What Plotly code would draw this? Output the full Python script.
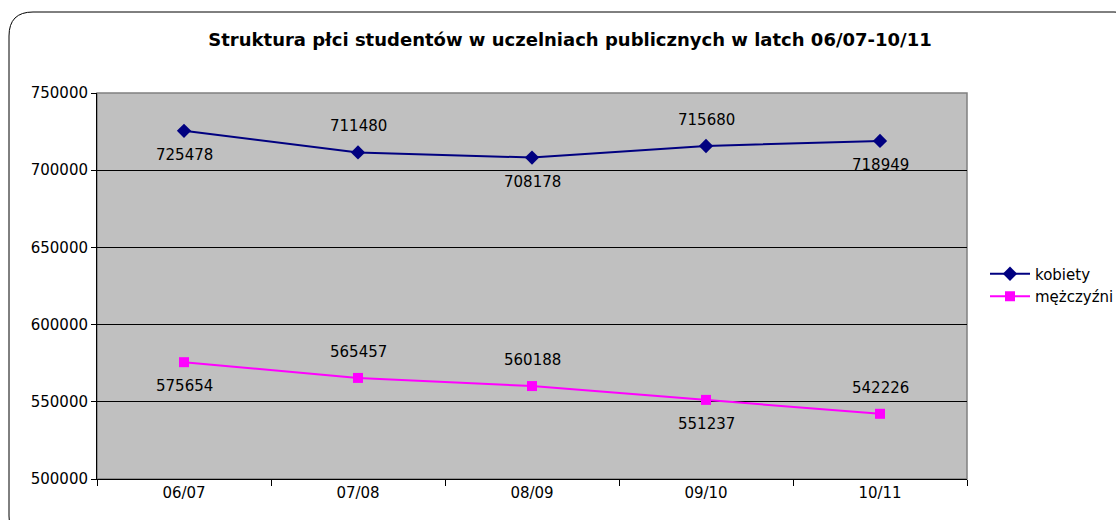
import plotly.graph_objects as go

categories = ["06/07", "07/08", "08/09", "09/10", "10/11"]
kobiety = [725478, 711480, 708178, 715680, 718949]
mezczyzni = [575654, 565457, 560188, 551237, 542226]
kobiety_label_pos = ["below", "above", "below", "above", "below"]
mezczyzni_label_pos = ["below", "above", "above", "below", "above"]
y_ticks = [500000, 550000, 600000, 650000, 700000, 750000]

W, H = 1116, 520
L, R, T, B = 97, 967, 93, 479
FONT = "DejaVu Sans, Liberation Sans, Arial"

fig = go.Figure()
fig.add_trace(go.Scatter(
    x=categories, y=kobiety, name="kobiety", mode="lines+markers",
    line=dict(color="#000080", width=2),
    marker=dict(symbol="diamond", size=11, color="#000080"),
))
fig.add_trace(go.Scatter(
    x=categories, y=mezczyzni, name="mężczyźni", mode="lines+markers",
    line=dict(color="#FF00FF", width=2),
    marker=dict(symbol="square", size=10, color="#FF00FF"),
))

annotations = []
for vals, poss in [(kobiety, kobiety_label_pos), (mezczyzni, mezczyzni_label_pos)]:
    for c, v, p in zip(categories, vals, poss):
        annotations.append(dict(
            x=c, y=v, xref="x", yref="y", text=str(v), showarrow=False,
            yshift=-24 if p == "below" else 26,
            font=dict(family=FONT, size=15, color="#000000"),
        ))


def px(x):
    return (x - L) / (R - L)


def py(y):
    return (B - y) / (B - T)


x0, x1, y0, y1, r = 9, 1138, 12, 540, 24
path = (
    f"M {px(x0 + r)},{py(y0)} L {px(x1 - r)},{py(y0)} "
    f"Q {px(x1)},{py(y0)} {px(x1)},{py(y0 + r)} "
    f"L {px(x1)},{py(y1 - r)} Q {px(x1)},{py(y1)} {px(x1 - r)},{py(y1)} "
    f"L {px(x0 + r)},{py(y1)} Q {px(x0)},{py(y1)} {px(x0)},{py(y1 - r)} "
    f"L {px(x0)},{py(y0 + r)} Q {px(x0)},{py(y0)} {px(x0 + r)},{py(y0)} Z"
)

fig.update_layout(
    width=W, height=H,
    margin=dict(l=L, r=W - R, t=T, b=H - B, autoexpand=False),
    paper_bgcolor="white",
    plot_bgcolor="#C0C0C0",
    font=dict(family=FONT, size=15, color="#000000"),
    title=dict(
        text="<b>Struktura płci studentów w uczelniach publicznych w latch 06/07-10/11</b>",
        x=px(570), xanchor="center", xref="paper", y=1 - 40 / H, yanchor="middle",
        font=dict(family=FONT, size=18, color="#000000"),
    ),
    showlegend=True,
    legend=dict(
        x=px(985), y=py(285), xanchor="left", yanchor="middle",
        font=dict(family=FONT, size=15, color="#000000"),
        bgcolor="rgba(0,0,0,0)", tracegroupgap=0, itemwidth=40,
    ),
    xaxis=dict(
        type="category", range=[-0.5, 4.5], showgrid=False,
        showline=True, linecolor="#000000", linewidth=1,
        ticks="outside", tickson="boundaries", ticklen=6, tickcolor="#000000",
        tickfont=dict(size=15), mirror=False, zeroline=False,
    ),
    yaxis=dict(
        range=[500000, 750000], tickvals=y_ticks, ticktext=[str(t) for t in y_ticks],
        showgrid=True, gridcolor="#000000", gridwidth=1,
        showline=True, linecolor="#000000", linewidth=1,
        ticks="outside", ticklen=5, tickcolor="#000000",
        tickfont=dict(size=15), zeroline=False,
    ),
    annotations=annotations,
    shapes=[
        dict(type="rect", xref="paper", yref="paper", x0=0, x1=1, y0=0, y1=1,
             line=dict(color="#808080", width=1.5), layer="below"),
        dict(type="path", xref="paper", yref="paper", path=path,
             line=dict(color="#000000", width=1), layer="above"),
    ],
)

fig.write_html(
    "out.html",
    config={"displayModeBar": False},
    post_script="document.body.style.margin='0';document.body.style.overflow='hidden';",
)
